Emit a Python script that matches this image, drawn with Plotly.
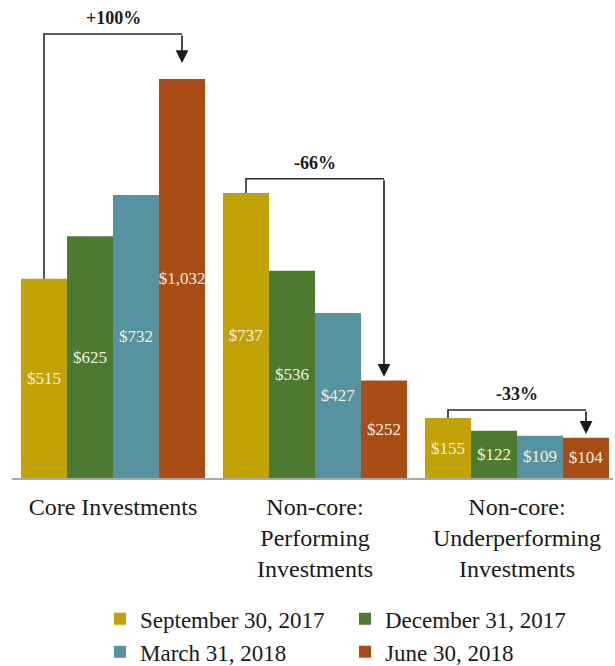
import plotly.graph_objects as go

# ---- data ----
categories = ["Core Investments", "Non-core: Performing Investments", "Non-core: Underperforming Investments"]
tick_labels = ["Core Investments", "Non-core:<br>Performing<br>Investments", "Non-core:<br>Underperforming<br>Investments"]
series_names = ["September 30, 2017", "December 31, 2017", "March 31, 2018", "June 30, 2018"]
sep_2017 = [515, 737, 155]
dec_2017 = [625, 536, 122]
mar_2018 = [732, 427, 109]
jun_2018 = [1032, 252, 104]
series_values = [sep_2017, dec_2017, mar_2018, jun_2018]

# ---- style ----
colors = ["#C3A206", "#4D7A2F", "#5693A0", "#A94C16"]
SERIF = "Liberation Serif"
BARGAP = 0.089
W, H = 615, 666
M_L, M_R, M_T, M_B = 12, 2, 10, 188
PX_PER_UNIT = 0.3867
PX_PER_CAT = 202.0
Y_MAX = (H - M_T - M_B) / PX_PER_UNIT
X_MAX = -0.5 + (W - M_L - M_R) / PX_PER_CAT
# bracket geometry (data units): height of bracket line above group max, arrow tip gap above target bar
bracket_pad = [116, 37, 21]
tip_gap = [41, 10, 10]

fig = go.Figure()
for name, vals, col in zip(series_names, series_values, colors):
    fig.add_trace(go.Bar(
        x=categories, y=vals, name=name, marker=dict(color=col, line=dict(width=0)),
        text=[f"${v:,}" for v in vals], textposition="inside", insidetextanchor="middle",
        constraintext="none", textangle=0,
        textfont=dict(family=SERIF, size=17, color="#F4F0DC"),
        hoverinfo="skip",
    ))

n = len(series_values)
bw = (1 - BARGAP) / n
def off(k):
    return (k - (n - 1) / 2) * bw

shapes = []
annotations = []
for i in range(len(categories)):
    first = series_values[0][i]
    last = series_values[-1][i]
    group_max = max(s[i] for s in series_values)
    ytop = group_max + bracket_pad[i]
    x0 = i + off(0)
    x1 = i + off(n - 1)
    pct = round((last - first) / first * 100)
    label = f"+{pct}%" if pct > 0 else f"{pct}%"
    shapes.append(dict(type="path", xref="x", yref="y",
                       path=f"M {x0} {first} L {x0} {ytop} L {x1} {ytop}",
                       line=dict(color="#2b2b2b", width=1.6)))
    annotations.append(dict(x=x1, y=last + tip_gap[i], ax=x1, ay=ytop, xref="x", yref="y",
                            axref="x", ayref="y", text="", showarrow=True, arrowhead=2,
                            arrowsize=1.6, arrowwidth=1.6, arrowcolor="#1a1a1a", standoff=0))
    annotations.append(dict(x=i, y=ytop, xref="x", yref="y", text=f"<b>{label}</b>",
                            showarrow=False, yanchor="middle", yshift=16,
                            font=dict(family=SERIF, size=18, color="#1a1a1a")))

fig.update_layout(
    width=W, height=H,
    margin=dict(l=M_L, r=M_R, t=M_T, b=M_B),
    paper_bgcolor="white", plot_bgcolor="white",
    barmode="group", bargap=BARGAP, bargroupgap=0,
    shapes=shapes, annotations=annotations,
    showlegend=True,
    legend=dict(orientation="h", xref="container", x=100 / W, xanchor="left",
                yref="container", y=0.103, yanchor="top",
                entrywidth=200, entrywidthmode="pixels", traceorder="normal",
                font=dict(family=SERIF, size=23, color="#1a1a1a"), itemclick=False),
    font=dict(family=SERIF),
)
fig.update_xaxes(
    range=[-0.5, X_MAX], tickvals=categories, ticktext=tick_labels,
    showline=True, linecolor="#A9A9A9", linewidth=2, ticks="", showgrid=False,
    tickfont=dict(family=SERIF, size=24, color="#1a1a1a"), ticklabelstandoff=6,
)
fig.update_yaxes(range=[0, Y_MAX], visible=False, showgrid=False)

fig.write_html("out.html")
